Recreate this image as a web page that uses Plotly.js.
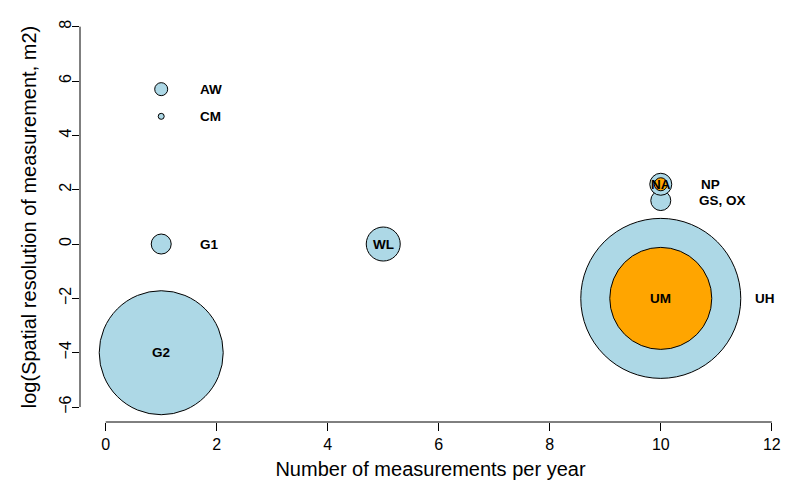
<!DOCTYPE html>
<html>
<head>
<meta charset="utf-8">
<script src="https://cdn.plot.ly/plotly-3.0.1.min.js"></script>
<style>html,body{margin:0;padding:0;background:#fff;}</style>
</head>
<body>
<div id="chart" style="width:786px;height:483px;"></div>
<script>
// Data (drawing order: large first so small circles stay visible)
var codes      = ["G2", "UH", "UM", "WL", "G1", "AW", "CM", "GS, OX", "NP", "NA"];
var perYear    = [1, 10, 10, 5, 1, 1, 1, 10, 10, 10];
var logRes     = [-4, -2, -2, 0, 0, 5.7, 4.7, 1.6, 2.2, 2.2];
var circleSize = [62, 80, 51, 17, 10, 6.5, 3, 10, 11, 6.5];   // relative circle radius
var group      = ["blue", "blue", "orange", "blue", "blue", "blue", "blue", "blue", "blue", "orange"];

// Labels
var labelText  = ["AW", "CM", "G1", "NP", "GS, OX", "UH", "G2", "WL", "UM", "NA"];
var labelX     = [1.66, 1.66, 1.66, 10.68, 10.66, 11.66, 1, 5, 10, 10];
var labelY     = [5.7, 4.7, 0, 2.2, 1.6, -2, -4, 0, -2, 2.2];
var labelAlign = ["left", "left", "left", "left", "left", "left", "center", "center", "center", "center"];

var xTicks = [0, 2, 4, 6, 8, 10, 12];
var yTicks = [-6, -4, -2, 0, 2, 4, 6, 8];

var colorMap = {blue: "#ADD8E6", orange: "#FFA500"};

var trace = {
  x: perYear,
  y: logRes,
  mode: "markers",
  type: "scatter",
  hoverinfo: "skip",
  cliponaxis: false,
  marker: {
    size: circleSize.map(function (r) { return 2 * r; }),
    sizemode: "diameter",
    color: group.map(function (g) { return colorMap[g]; }),
    opacity: 1,
    line: {color: "#000", width: 1}
  }
};

var fam = "Liberation Sans, Arial, sans-serif";

var annotations = labelText.map(function (t, i) {
  return {
    x: labelX[i], y: labelY[i], xref: "x", yref: "y",
    text: t, showarrow: false,
    xanchor: labelAlign[i], yanchor: "middle",
    font: {family: fam, size: 13.5, color: "#000", weight: "bold"}
  };
});

var axisFont = {family: fam, size: 16, color: "#000"};

var layout = {
  width: 786, height: 483,
  margin: {l: 80, r: 5, t: 12, b: 61},
  paper_bgcolor: "#fff", plot_bgcolor: "#fff",
  showlegend: false,
  xaxis: {
    range: [-0.463, 12.166],
    tickvals: xTicks, ticktext: xTicks.map(String),
    ticks: "outside", ticklen: 8, tickcolor: "#000", tickwidth: 1,
    showline: false, showgrid: false, zeroline: false,
    tickfont: axisFont,
    title: {text: "Number of measurements per year", font: {family: fam, size: 20, color: "#000"}, standoff: 9}
  },
  yaxis: {
    range: [-6.55, 8.54],
    tickvals: yTicks, ticktext: yTicks.map(function (v) { return v < 0 ? "\u2212" + Math.abs(v) : String(v); }),
    ticks: "outside", ticklen: 7, tickcolor: "#000", tickwidth: 1,
    tickangle: -90,
    ticklabelstandoff: -5,
    showline: false, showgrid: false, zeroline: false,
    tickfont: axisFont,
    title: {text: "log(Spatial resolution of measurement, m2)", font: {family: fam, size: 20, color: "#000"}, standoff: 14}
  },
  shapes: [
    {type: "line", xref: "x", yref: "paper", x0: xTicks[0], x1: xTicks[xTicks.length - 1], y0: 0, y1: 0, line: {color: "#000", width: 1}},
    {type: "line", xref: "paper", yref: "y", x0: 0, x1: 0, y0: yTicks[0], y1: yTicks[yTicks.length - 1], line: {color: "#000", width: 1}}
  ],
  annotations: annotations
};

Plotly.newPlot("chart", [trace], layout, {displayModeBar: false, staticPlot: true});
</script>
</body>
</html>
